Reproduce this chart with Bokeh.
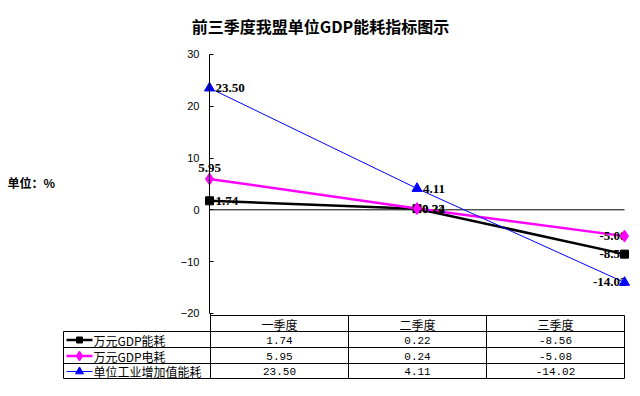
from bokeh.plotting import figure
from bokeh.models import Range1d, LinearAxis, FixedTicker
from bokeh.core.properties import value
from bokeh.embed import file_html
from bokeh.resources import INLINE

# ---------------- data ----------------
title_text = "前三季度我盟单位GDP能耗指标图示"
unit_text = "单位：%"
categories = ["一季度", "二季度", "三季度"]
series_names = ["万元GDP能耗", "万元GDP电耗", "单位工业增加值能耗"]
energy = [1.74, 0.22, -8.56]
power = [5.95, 0.24, -5.08]
industry = [23.50, 4.11, -14.02]
y_ticks = [-20, -10, 0, 10, 20, 30]

# ---------------- layout helpers (screen px -> data) ----------------
W, H = 632, 388
OX, OY = 0, 0
X0_PX, X_STEP = 209.0, 207.5
Y0_PX, Y_UNIT = 209.3, 5.18


def fx(sx):
    return (sx - X0_PX) / X_STEP


def fy(sy):
    return (Y0_PX - sy) / Y_UNIT


p = figure(width=W, height=H,
           x_range=Range1d(fx(OX), fx(OX + W)),
           y_range=Range1d(fy(OY + H), fy(OY)),
           output_backend="svg", toolbar_location=None,
           x_axis_type=None, y_axis_type=None, min_border=0,
           outline_line_color=None, background_fill_color="white",
           border_fill_color="white")

CJK = value("Noto Sans CJK SC")

# title
p.text(x=[fx(320)], y=[fy(25)], text=[title_text], text_align="center",
       text_baseline="middle", text_font=CJK, text_font_style="bold",
       text_font_size="16px", text_color="black")
# unit label
p.text(x=[fx(7)], y=[fy(182)], text=[unit_text], text_align="left",
       text_baseline="middle", text_font=CJK, text_font_style="bold",
       text_font_size="12px", text_color="black")

# y axis fixed at first category
yax = LinearAxis(fixed_location=0, bounds=(min(y_ticks), max(y_ticks)),
                 ticker=FixedTicker(ticks=y_ticks),
                 major_tick_in=4, major_tick_out=0,
                 minor_tick_in=0, minor_tick_out=0,
                 major_label_standoff=10,
                 major_label_text_font="Liberation Sans",
                 major_label_text_font_size="11px",
                 major_label_text_color="black",
                 axis_line_color="black", axis_line_width=1,
                 major_tick_line_color="black")
p.add_layout(yax, "left")

xs = list(range(len(categories)))

# zero line
p.segment(x0=[xs[0]], y0=[0], x1=[xs[-1]], y1=[0], line_color="black", line_width=1)

series = [
    (energy, "black", 2.5, "square", 8),
    (power, "#FF00FF", 2.5, "diamond", 12),
    (industry, "#0000FF", 1, "triangle", 10),
]

for vals, col, lw, mk, ms in series:
    p.line(xs, vals, line_color=col, line_width=lw)

# data labels
label_cfg = [
    [("left", "middle", 6, 0), ("left", "middle", 5, 0), ("right", "middle", 2, 0)],
    [("center", "bottom", 0, -7), ("left", "middle", 5, 0), ("right", "middle", 2, 0)],
    [("left", "middle", 6, 0), ("left", "middle", 6, 0), ("right", "middle", 2, 0)],
]
for (vals, col, lw, mk, ms), cfg in zip(series, label_cfg):
    for i, v in enumerate(vals):
        a, b, xo, yo = cfg[i]
        p.text(x=[xs[i]], y=[v], text=["%.2f" % v], text_align=a, text_baseline=b,
               x_offset=xo, y_offset=yo, text_font=value("Liberation Serif"),
               text_font_style="bold", text_font_size="13px", text_color="black")

for vals, col, lw, mk, ms in series:
    p.scatter(xs, vals, marker=mk, size=ms, fill_color=col, line_color=col)

# ---------------- data table ----------------
T_TOP, R1, R2, R3, T_BOT = 315, 331, 347, 363, 378
C_LEFT, C0, C1, C2, C3 = 63, 210, 348, 486, 624
rows = [R1, R2, R3, T_BOT]

hx0 = [fx(C0)] + [fx(C_LEFT)] * 4
hx1 = [fx(C3)] * 5
hy = [fy(T_TOP)] + [fy(r) for r in rows]
p.segment(x0=hx0, y0=hy, x1=hx1, y1=hy, line_color="black", line_width=1)

vx = [fx(C_LEFT), fx(C0), fx(C1), fx(C2), fx(C3)]
vy0 = [fy(R1), fy(313), fy(T_TOP), fy(T_TOP), fy(T_TOP)]
vy1 = [fy(T_BOT)] * 5
p.segment(x0=vx, y0=vy0, x1=vx, y1=vy1, line_color="black", line_width=1)

col_centers = [fx((C0 + C1) / 2), fx((C1 + C2) / 2), fx((C2 + C3) / 2)]
p.text(x=col_centers, y=[fy(323.5)] * 3, text=categories, text_align="center",
       text_baseline="middle", text_font=CJK, text_font_size="12px", text_color="black")

row_centers = [339.5, 355.5, 371]
for (vals, col, lw, mk, ms), name, rc in zip(series, series_names, row_centers):
    p.text(x=col_centers, y=[fy(rc)] * 3, text=["%.2f" % v for v in vals],
           text_align="center", text_baseline="middle", text_font=value("Liberation Mono"),
           text_font_size="11px", text_color="black")
    p.segment(x0=[fx(66)], y0=[fy(rc)], x1=[fx(92)], y1=[fy(rc)], line_color=col,
              line_width=lw)
    p.scatter([fx(79)], [fy(rc)], marker=mk, size=ms - 2, fill_color=col, line_color=col)
    p.text(x=[fx(93)], y=[fy(rc)], text=[name], text_align="left", text_baseline="middle",
           text_font=CJK, text_font_size="12px", text_color="black")

open("out.html", "w").write(file_html(p, INLINE))
